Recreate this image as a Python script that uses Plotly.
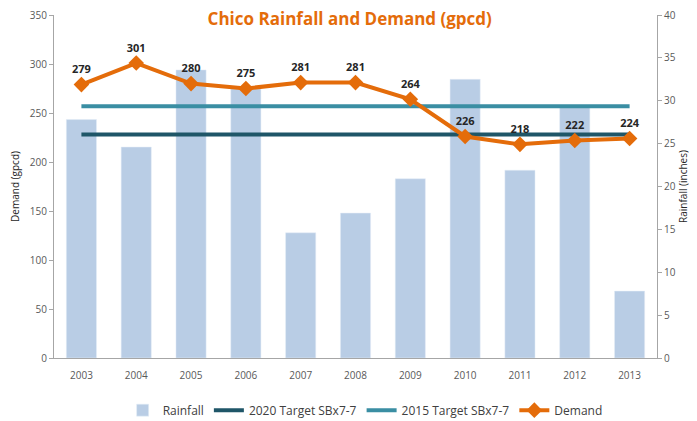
import plotly.graph_objects as go

years = ["2003", "2004", "2005", "2006", "2007", "2008", "2009", "2010", "2011", "2012", "2013"]
rainfall = [27.8, 24.6, 33.6, 31.4, 14.6, 16.9, 20.9, 32.5, 21.9, 29.2, 7.8]
demand = [279, 301, 280, 275, 281, 281, 264, 226, 218, 222, 224]
target_2020 = [228] * len(years)
target_2015 = [257] * len(years)

font_fam = "Open Sans, Liberation Sans, sans-serif"
grey = "#595959"

fig = go.Figure()
fig.add_trace(go.Bar(x=years, y=rainfall, name="Rainfall", marker_color="#B9CDE5",
                     yaxis="y"))
fig.add_trace(go.Scatter(x=years, y=target_2020, name="2020 Target SBx7-7", mode="lines",
                         line=dict(color="#1F5668", width=4), yaxis="y2"))
fig.add_trace(go.Scatter(x=years, y=target_2015, name="2015 Target SBx7-7", mode="lines",
                         line=dict(color="#3A8EA3", width=4), yaxis="y2"))
fig.add_trace(go.Scatter(x=years, y=demand, name="Demand", mode="lines+markers+text",
                         line=dict(color="#E46C0A", width=4),
                         marker=dict(symbol="diamond", size=12, color="#E46C0A"),
                         text=[str(v) for v in demand], textposition="top center",
                         textfont=dict(size=11, color="#262626", family=font_fam, weight="bold"),
                         yaxis="y2"))

fig.update_layout(
    width=689, height=413,
    margin=dict(l=46, r=40, t=7, b=63, autoexpand=False),
    paper_bgcolor="white", plot_bgcolor="white",
    font=dict(family=font_fam, color=grey, size=10),
    title=dict(text="<b>Chico Rainfall and Demand (gpcd)</b>", x=0.496, xanchor="center",
               y=0.973, yanchor="middle",
               font=dict(size=17, color="#E46C0A", family=font_fam)),
    bargap=0.45,
    xaxis=dict(type="category", range=[-0.5, 10.5], showline=True, linecolor="#A6A6A6",
               ticks="", tickfont=dict(size=10, color=grey), showgrid=False, automargin=False,
               ticklabelstandoff=8),
    yaxis=dict(side="right", range=[0, 40], dtick=5, showline=True, linecolor="#A6A6A6",
               ticks="outside", ticklen=4, tickcolor="#A6A6A6", showgrid=False, zeroline=False,
               automargin=False, ticklabeloverflow="allow",
               title=dict(text="Rainfall (inches)", font=dict(size=10, color="#262626"), standoff=4),
               tickfont=dict(size=10, color=grey)),
    yaxis2=dict(side="left", overlaying="y", range=[0, 350], dtick=50, showline=True,
                linecolor="#A6A6A6", ticks="outside", ticklen=4, tickcolor="#A6A6A6",
                showgrid=False, zeroline=False, automargin=False, ticklabeloverflow="allow",
                title=dict(text="Demand (gpcd)", font=dict(size=10, color="#262626"), standoff=8),
                tickfont=dict(size=10, color=grey)),
    legend=dict(orientation="h", x=0.516, xanchor="center", y=-0.152, yanchor="middle",
                font=dict(size=12, color="#404040"), traceorder="normal"),
    showlegend=True,
)

fig.write_html("out.html")
